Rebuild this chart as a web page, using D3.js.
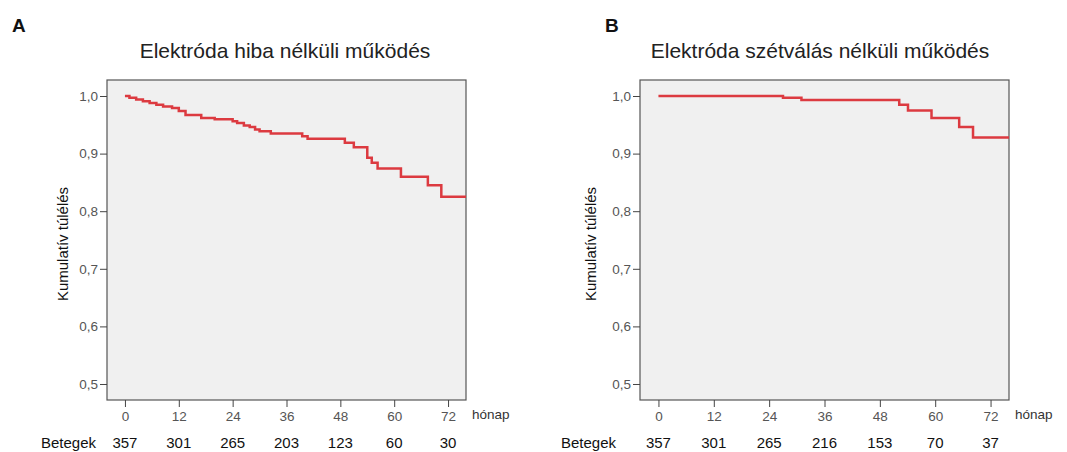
<!DOCTYPE html>
<html>
<head>
<meta charset="utf-8">
<script src="https://cdn.jsdelivr.net/npm/d3@7"></script>
<style>
  body { margin: 0; background: #fff; }
  svg { display: block; font-family: "Liberation Sans", Arial, sans-serif; }
</style>
</head>
<body>
<svg id="chart" width="1067" height="452"></svg>
<script>
// Panel A - electrode failure free
const timesA = [0, 1.0, 2.5, 4, 5.5, 7, 8.5, 10.5, 12, 13.5, 17, 20, 24, 25, 26.5, 27.8, 29, 30, 32.5, 39.5, 40.7, 49, 51, 54, 55, 56.3, 61.5, 67.5, 70.5];
const survA = [1.0, 0.997, 0.994, 0.991, 0.988, 0.985, 0.982, 0.979, 0.974, 0.967, 0.962, 0.9595, 0.956, 0.953, 0.949, 0.946, 0.942, 0.939, 0.935, 0.930, 0.926, 0.919, 0.911, 0.893, 0.884, 0.874, 0.860, 0.845, 0.825];
// Panel B - electrode dislodgement free
const timesB = [0, 27, 31, 52.2, 54.1, 59.2, 65.2, 68.2];
const survB = [1.0, 0.997, 0.993, 0.985, 0.975, 0.962, 0.946, 0.928];

const xTicks = [0, 12, 24, 36, 48, 60, 72];
const yTicks = [0.5, 0.6, 0.7, 0.8, 0.9, 1.0];
const atRiskA = [357, 301, 265, 203, 123, 60, 30];
const atRiskB = [357, 301, 265, 216, 153, 70, 37];

const titles = ["Elektróda hiba nélküli működés", "Elektróda szétválás nélküli működés"];
const letters = ["A", "B"];

const svg = d3.select("#chart");
const red = "#dc3a40";

const panels = [
    { times: timesA, surv: survA, risk: atRiskA, x0: 107, x1: 466, titleX: 285, letterX: 12, ylabX: 68, riskLabelX: 41 },
    { times: timesB, surv: survB, risk: atRiskB, x0: 640, x1: 1009, titleX: 820, letterX: 605, ylabX: 596, riskLabelX: 561 }
];

const plotTop = 80, plotBottom = 400;

const drawPanel = (p, i) => {
    const x = d3.scaleLinear().domain([-4, 76]).range([p.x0, p.x1]);
    const y = d3.scaleLinear().domain([0.4722, 1.0278]).range([plotBottom, plotTop]);
    const g = svg.append("g");

    // Panel letter
    g.append("text")
        .attr("x", p.letterX)
        .attr("y", 32)
        .attr("font-size", 19)
        .attr("font-weight", "bold")
        .attr("fill", "#111")
        .text(letters[i]);

    // Title
    g.append("text")
        .attr("x", p.titleX)
        .attr("y", 58)
        .attr("text-anchor", "middle")
        .attr("font-size", 21)
        .attr("fill", "#222")
        .text(titles[i]);

    // Plot background
    g.append("rect")
        .attr("x", p.x0)
        .attr("y", plotTop)
        .attr("width", p.x1 - p.x0)
        .attr("height", plotBottom - plotTop)
        .attr("fill", "#f0f0f0")
        .attr("stroke", "#555")
        .attr("stroke-width", 1.2);

    // Y axis
    const yAxis = g.append("g")
        .attr("transform", "translate(" + p.x0 + ",0)")
        .call(d3.axisLeft(y).tickValues(yTicks).tickSize(7).tickSizeOuter(0)
            .tickFormat(d => d.toFixed(1).replace(".", ",")));
    yAxis.select(".domain").remove();
    yAxis.selectAll("line").attr("stroke", "#444");
    yAxis.selectAll("text")
        .attr("font-size", 13.5)
        .attr("fill", "#555")
        .attr("font-family", "Liberation Sans, Arial, sans-serif")
        .attr("x", -9);

    // X axis
    const xAxis = g.append("g")
        .attr("transform", "translate(0," + plotBottom + ")")
        .call(d3.axisBottom(x).tickValues(xTicks).tickSize(7).tickSizeOuter(0));
    xAxis.select(".domain").remove();
    xAxis.selectAll("line").attr("stroke", "#444");
    xAxis.selectAll("text")
        .attr("font-size", 13.5)
        .attr("fill", "#555")
        .attr("font-family", "Liberation Sans, Arial, sans-serif")
        .attr("y", 11);

    // unit label
    g.append("text")
        .attr("x", p.x1 + 6)
        .attr("y", 419)
        .attr("font-size", 13.5)
        .attr("fill", "#333")
        .text("hónap");

    // Y label
    g.append("text")
        .attr("transform", "translate(" + p.ylabX + ",244) rotate(-90)")
        .attr("text-anchor", "middle")
        .attr("font-size", 15)
        .attr("fill", "#111")
        .text("Kumulatív túlélés");

    // Number at risk
    g.append("text")
        .attr("x", p.riskLabelX)
        .attr("y", 448)
        .attr("font-size", 15)
        .attr("fill", "#111")
        .text("Betegek");
    g.selectAll(".risk")
        .data(p.risk)
        .enter()
        .append("text")
        .attr("class", "risk")
        .attr("x", (d, j) => x(xTicks[j]))
        .attr("y", 448)
        .attr("text-anchor", "middle")
        .attr("font-size", 15)
        .attr("fill", "#111")
        .text(d => d);

    // Survival curve
    const pts = p.times.map((t, j) => [t, p.surv[j]]);
    pts.push([x.domain()[1], p.surv[p.surv.length - 1]]);
    const line = d3.line()
        .x(d => x(d[0]))
        .y(d => y(d[1]))
        .curve(d3.curveStepAfter);
    g.append("path")
        .attr("d", line(pts))
        .attr("fill", "none")
        .attr("stroke", red)
        .attr("stroke-width", 2.5);
};

panels.forEach(drawPanel);
</script>
</body>
</html>
